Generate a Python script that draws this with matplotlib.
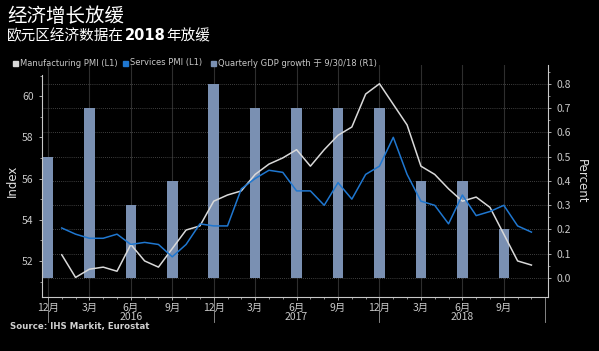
import numpy as np
import matplotlib.pyplot as plt
import matplotlib.transforms as mtransforms

plt.rcParams['font.family'] = ['Noto Sans CJK SC', 'DejaVu Sans']

# months counted from Dec 2015 (0) to Nov 2018 (35)
months = np.arange(1, 36)  # Jan 2016 .. Nov 2018
manufacturing = [52.3, 51.2, 51.6, 51.7, 51.5, 52.8, 52.0, 51.7, 52.6, 53.5, 53.7, 54.9,
                 55.2, 55.4, 56.2, 56.7, 57.0, 57.4, 56.6, 57.4, 58.1, 58.5, 60.1, 60.6,
                 59.6, 58.6, 56.6, 56.2, 55.5, 54.9, 55.1, 54.6, 53.3, 52.0, 51.8]
services = [53.6, 53.3, 53.1, 53.1, 53.3, 52.8, 52.9, 52.8, 52.2, 52.8, 53.8, 53.7,
            53.7, 55.5, 56.0, 56.4, 56.3, 55.4, 55.4, 54.7, 55.8, 55.0, 56.2, 56.6,
            58.0, 56.2, 54.9, 54.7, 53.8, 55.2, 54.2, 54.4, 54.7, 53.7, 53.4]

quarters = np.arange(0, 34, 3)  # Dec 2015 .. Sep 2018
gdp = [0.5, 0.7, 0.3, 0.4, 0.8, 0.7, 0.7, 0.7, 0.7, 0.4, 0.4, 0.2]

tick_labels = ["12月", "3月", "6月", "9月"] * 3
years = ["2016", "2017", "2018"]

bg = "black"
txt = "#c8c8c8"
white_line = "#d9d9d9"
blue_line = "#1f77d0"
bar_color = "#7a90b2"

fig = plt.figure(figsize=(5.99, 3.51), dpi=100, facecolor=bg)
ax = fig.add_axes([42 / 599, 1 - 297 / 351, (548 - 42) / 599, (297 - 65) / 351])
ax2 = ax.twinx()
ax.set_zorder(ax2.get_zorder() + 1)
ax.patch.set_visible(False)
ax2.set_facecolor(bg)

# bars on right axis, grid behind them
for q in quarters:
    ax2.axvline(q, color="#2e2e2e", linewidth=0.8, zorder=0)
ax2.bar(quarters, gdp, width=0.76, color=bar_color, linewidth=0, zorder=2)
ax2.set_ylim(-0.079, 0.878)
ax2.set_yticks(np.arange(0, 0.81, 0.1))
ax2.set_yticks(np.arange(0, 0.86, 0.05), minor=True)
ax2.yaxis.grid(True, color="#555555", linestyle=(0, (1, 1.5)), linewidth=0.6, zorder=0)
ax2.set_axisbelow(True)
ax2.set_ylabel("Percent", color="#e0e0e0", fontsize=8.5, rotation=-90, labelpad=12,
               family="DejaVu Sans")

# lines on left axis
ax.plot(months, manufacturing, color=white_line, linewidth=1.1)
ax.plot(months, services, color=blue_line, linewidth=1.1)
ax.set_xlim(-0.43, 36.2)
ax.set_ylim(50.25, 61.51)
ax.set_yticks([52, 54, 56, 58, 60])
ax.set_yticks([51, 53, 55, 57, 59, 61], minor=True)
ax.set_ylabel("Index", color="#e0e0e0", fontsize=8.5, labelpad=2, family="DejaVu Sans")

ax.set_xticks(quarters)
ax.set_xticklabels(tick_labels)
ax.set_xticks(np.arange(0, 36), minor=True)

for a in (ax, ax2):
    for s in a.spines.values():
        s.set_visible(False)
    a.tick_params(colors=txt, labelsize=7.5, length=2.5, width=0.6)
    a.tick_params(which="minor", colors=txt, length=1.5, width=0.5)

ax.spines['left'].set_visible(True)
ax.spines['left'].set_color(txt)
ax.spines['left'].set_bounds(50.25, 61.03)
ax.spines['bottom'].set_visible(True)
ax.spines['bottom'].set_color(txt)
ax2.spines['right'].set_visible(True)
ax2.spines['right'].set_color(txt)
ax.tick_params(axis='x', pad=1.5, labelsize=7.5)

# year separators and labels
trans = mtransforms.blended_transform_factory(ax.transData, ax.transAxes)
for x in [0, 12, 24, 36]:
    ax.plot([x, x], [0, -25 / 232], transform=trans, color="#9a9a9a",
            linewidth=0.6, clip_on=False)
for i, y in enumerate(years):
    ax.text(6 + 12 * i, -20 / 232, y, transform=trans, ha="center", va="center",
            color=txt, fontsize=7.5)

# titles
fig.text(7 / 599, 1 - 16 / 351, "经济增长放缓", color="white", fontsize=14, va="center")
renderer = fig.canvas.get_renderer()
x_px = 7
for part, kw in [("欧元区经济数据在", {}),
                 ("2018", {"fontweight": "bold", "family": "DejaVu Sans"}),
                 ("年放缓", {})]:
    t = fig.text(x_px / 599, 1 - 36 / 351, part, color="white", fontsize=10.5,
                 va="center", **kw)
    x_px += t.get_window_extent(renderer).width + 0.5

# legend row
legend_items = [("Manufacturing PMI (L1)", white_line, 13),
                ("Services PMI (L1)", blue_line, 123),
                ("Quarterly GDP growth 于 9/30/18 (R1)", bar_color, 211)]
for label, color, x0 in legend_items:
    fig.patches.append(plt.Rectangle((x0 / 599, 1 - 65.5 / 351), 5 / 599, 5 / 351,
                                     transform=fig.transFigure, color=color))
    fig.text((x0 + 7) / 599, 1 - 63 / 351, label, color=txt, fontsize=6, va="center",
             family=["DejaVu Sans", "Noto Sans CJK SC"])

fig.text(10 / 599, 1 - 327 / 351, "Source: IHS Markit, Eurostat", color="#d0d0d0",
         fontsize=6.2, fontweight="bold", va="center", family="DejaVu Sans")

fig.savefig("out.png", dpi=100, facecolor=bg)
